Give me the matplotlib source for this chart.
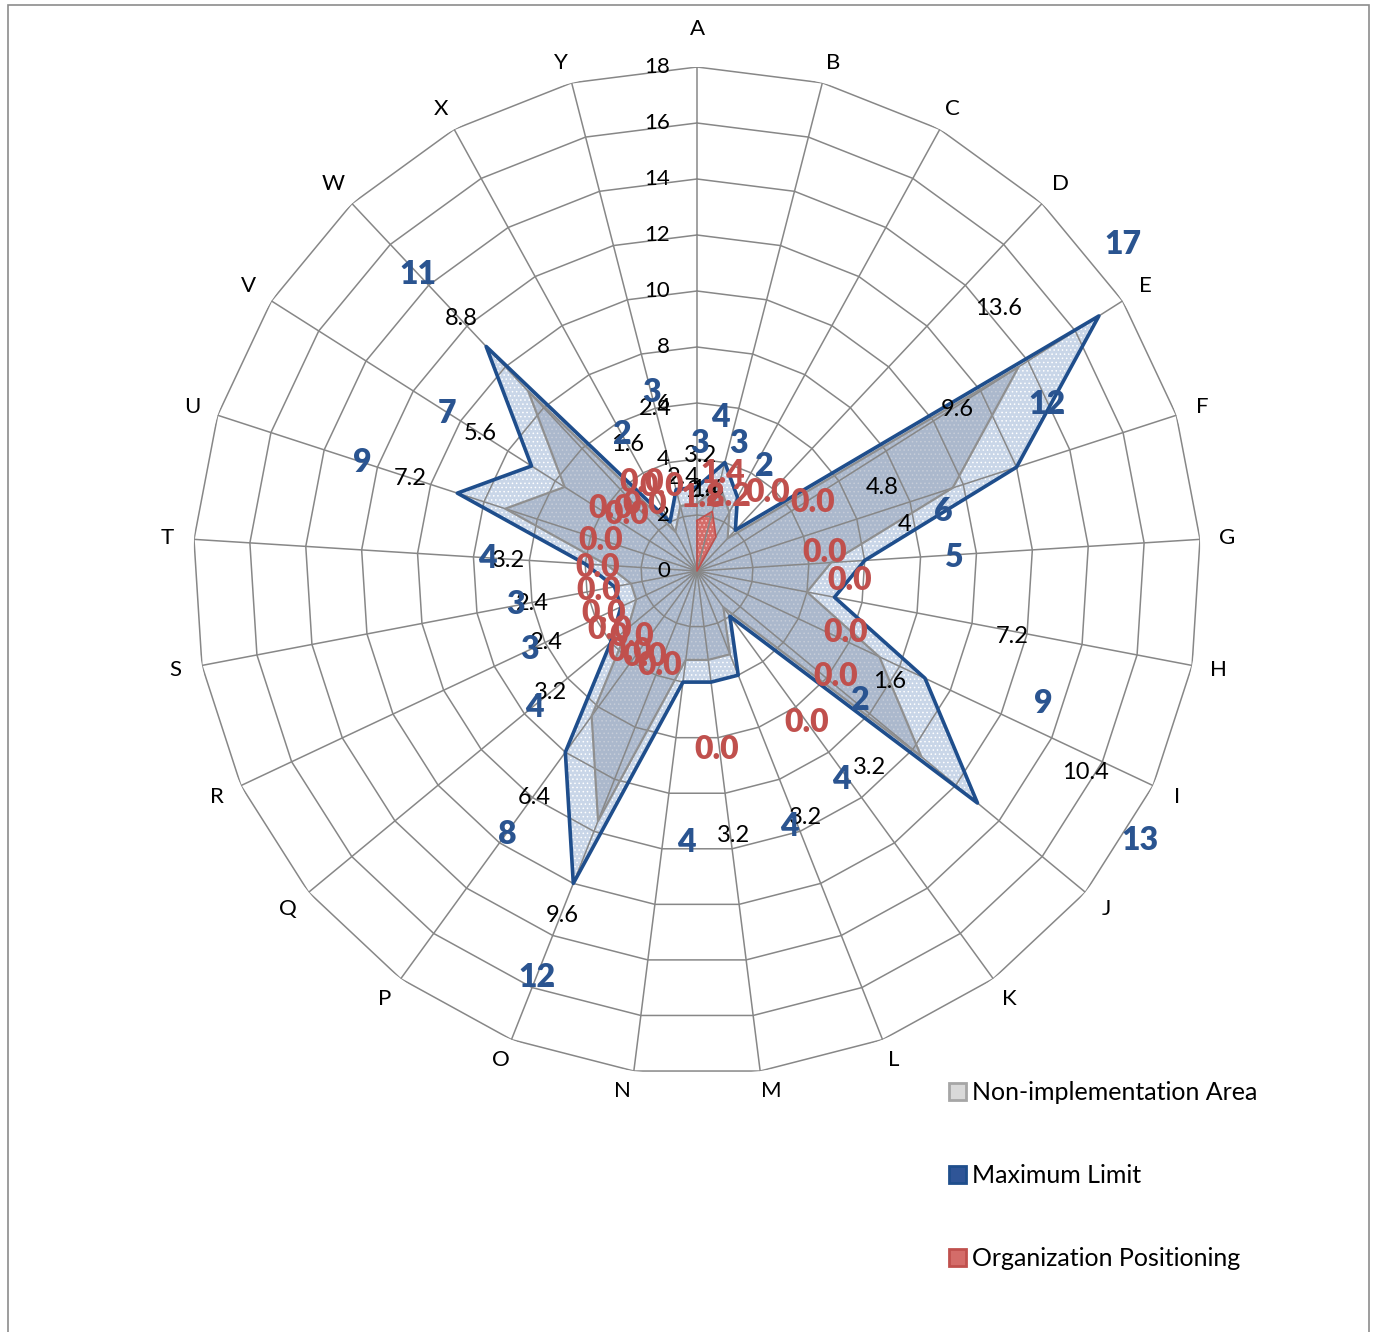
import numpy as np
import matplotlib
matplotlib.use("Agg")
import matplotlib.pyplot as plt
from matplotlib.patches import Patch, Rectangle
from matplotlib.transforms import offset_copy

plt.rcParams['font.family'] = ['Lato', 'DejaVu Sans']
plt.rcParams['hatch.linewidth'] = 0.6

# ---- data -------------------------------------------------------------
categories = list("ABCDEFGHIJKLMNOPQRSTUVWXY")
maximum_limit = [3, 4, 3, 2, 17, 12, 6, 5, 9, 13, 2, 4, 4, 4, 12, 8, 4, 3, 3, 4, 9, 7, 11, 2, 3]
non_implementation = [2.4, 3.2, 2.4, 1.6, 13.6, 9.6, 4.8, 4, 7.2, 10.4, 1.6, 3.2, 3.2, 3.2,
                      9.6, 6.4, 3.2, 2.4, 2.4, 3.2, 7.2, 5.6, 8.8, 1.6, 2.4]
organization = [1.8, 2.2, 1.4, 0, 0, 0, 0, 0, 0, 0, 0, 0, 0, 0, 0, 0, 0, 0, 0, 0, 0, 0, 0, 0, 0]
radial_ticks = [0, 2, 4, 6, 8, 10, 12, 14, 16, 18]
series_names = ["Non-implementation Area", "Maximum Limit", "Organization Positioning"]

# ---- data-label anchors (angle in degrees clockwise from top, radius) ----
max_label_pos = [(1.3, 4.57), (8.5, 5.56), (17.8, 4.8), (32.8, 4.42), (52.5, 19.18),
                 (64.5, 13.85), (76.3, 9.04), (86.9, 9.16), (110.9, 13.23), (121.3, 18.51),
                 (128.4, 7.42), (145.3, 9.04), (160.2, 9.71), (182.3, 9.69), (201.5, 15.62),
                 (215.8, 11.59), (230.0, 7.6), (244.7, 6.6), (259.4, 6.58), (273.5, 7.51),
                 (288.0, 12.58), (302.3, 10.56), (316.7, 14.53), (331.1, 5.55), (345.8, 6.56)]
non_label_pos = [(351.4, 3.36), (1.5, 4.14), (4.2, 2.9), (7.7, 2.92), (48.9, 14.28),
                 (58.1, 10.94), (65.8, 7.24), (77.5, 7.61), (101.7, 11.49), (117.5, 15.62),
                 (119.7, 7.93), (138.7, 9.36), (156.3, 9.6), (172.2, 9.52), (201.4, 13.2),
                 (215.7, 9.98), (230.5, 6.8), (244.8, 5.96), (259.0, 6.0), (273.3, 6.76),
                 (287.8, 10.76), (302.3, 9.17), (316.9, 12.33), (331.5, 5.16), (345.6, 6.01)]
org_label_pos = [(4.6, 2.65), (22.7, 2.87), (14.9, 3.62), (42.3, 3.77), (59.6, 4.8),
                 (82.0, 4.62), (93.4, 5.47), (112.3, 5.75), (127.1, 6.22), (144.1, 6.7),
                 (173.6, 6.43), (201.5, 3.61), (211.2, 3.59), (219.6, 3.75), (224.6, 3.31),
                 (235.9, 3.75), (245.7, 3.65), (259.0, 3.56), (272.3, 3.54), (287.9, 3.6),
                 (305.8, 3.79), (309.2, 3.22), (321.8, 3.0), (328.0, 3.71), (337.4, 3.25)]

# ---- colours ------------------------------------------------------------
GRID = "#878787"
BLUE_LINE = "#1f4e8c"
BLUE_TEXT = "#2a5490"
BLUE_FILL = "#c9d6e8"
GRAY_FILL = "#8e9bb2"
GRAY_LINE = "#8f8f8f"
RED = "#c0504d"
RED_FILL = "#d46c69"

W, H, DPI = 1374, 1332, 100
fig = plt.figure(figsize=(W / DPI, H / DPI), dpi=DPI)
fig.patch.set_facecolor("white")

cx, cy, rad = 697, 571, 504
ax = fig.add_axes([(cx - rad) / W, (H - cy - rad) / H, 2 * rad / W, 2 * rad / H],
                  projection="polar")
ax.set_theta_zero_location("N")
ax.set_theta_direction(-1)
rmax = radial_ticks[-1]
ax.set_ylim(0, rmax)
ax.set_axis_off()

n = len(categories)
angles = np.arange(n) * 2 * np.pi / n
ang_c = np.append(angles, angles[0])


def closed(v):
    return np.append(v, v[0])


# polygon gridlines and spokes
for r in radial_ticks[1:]:
    ax.plot(ang_c, [r] * (n + 1), color=GRID, lw=1.1, zorder=3)
for a in angles:
    ax.plot([a, a], [0, rmax], color=GRID, lw=1.1, zorder=3)

# series fills
ax.fill(ang_c, closed(maximum_limit), facecolor=BLUE_FILL, edgecolor="white",
        lw=0, hatch="....", zorder=1)
ax.fill(ang_c, closed(non_implementation), facecolor=GRAY_FILL, edgecolor="none",
        lw=0, alpha=0.5, zorder=2)
ax.fill(ang_c, closed(organization), facecolor=RED_FILL, edgecolor="#f2c4c3",
        lw=0, hatch="....", zorder=2.5)

# series outlines
ax.plot(ang_c, closed(non_implementation), color=GRAY_LINE, lw=1.6, zorder=4)
ax.plot(ang_c, closed(maximum_limit), color=BLUE_LINE, lw=2.6, zorder=5)
ax.plot(ang_c, closed(organization), color=RED, lw=1.2, zorder=6)

# radial tick labels along the A spoke
tick_tr = offset_copy(ax.transData, fig=fig, x=-27, y=0, units="dots")
for v in radial_ticks:
    ax.text(0, v, f"{v:g}", transform=tick_tr, ha="right", va="center",
            fontsize=16, color="black", zorder=7)

# category labels, pushed out from the outer ring by a pixel offset
for a, c in zip(angles, categories):
    s, co = np.sin(a), np.cos(a)
    dx = 27 * s
    if abs(s) > 0.01 and abs(dx) < 11:
        dx = 11 * np.sign(s)
    dy = 27 * co
    dy = np.clip(dy, -20, 20) if abs(s) > 0.01 else 38
    tr = offset_copy(ax.transData, fig=fig, x=dx, y=dy, units="dots")
    ax.text(a, rmax, c, transform=tr, ha="center", va="center",
            fontsize=16, color="black")

# data labels
for (a, r), v in zip(non_label_pos, non_implementation):
    ax.text(np.deg2rad(a), r, f"{v:g}", ha="center", va="center",
            fontsize=17, color="black", zorder=8)
for (a, r), v in zip(max_label_pos, maximum_limit):
    ax.text(np.deg2rad(a), r, f"{v:g}", ha="center", va="center",
            fontsize=23, fontweight="heavy", color=BLUE_TEXT, zorder=9)
for (a, r), v in zip(org_label_pos, organization):
    ax.text(np.deg2rad(a), r, f"{v:.1f}", ha="center", va="center",
            fontsize=23, fontweight="heavy", color=RED, zorder=10)

# legend
handles = [
    Patch(facecolor="#d9d9d9", edgecolor="#a6a6a6", lw=2),
    Patch(facecolor="#2f5597", edgecolor=BLUE_LINE, lw=2),
    Patch(facecolor=RED_FILL, edgecolor=RED, lw=2),
]
ax.legend(handles, series_names, loc="upper left",
          bbox_to_anchor=(949 / W, 1 - 1081 / H), bbox_transform=fig.transFigure,
          frameon=False, fontsize=18, handlelength=0.66, handleheight=0.66,
          handletextpad=0.25, labelspacing=2.4, borderpad=0, borderaxespad=0)

# outer chart border
fig.patches.append(Rectangle((8 / W, -0.01), (1369 - 8) / W, 1.01 - 5 / H,
                             transform=fig.transFigure, fill=False,
                             edgecolor="#8c8c8c", lw=1.2))

fig.savefig("out.png", dpi=DPI, facecolor="white")
